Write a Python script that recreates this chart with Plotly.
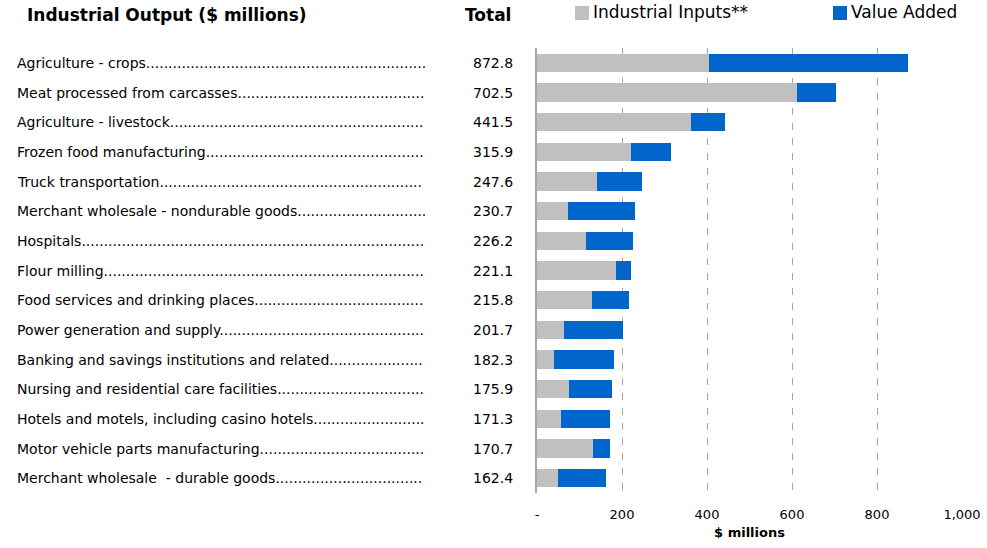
import plotly.graph_objects as go

# Industries ranked by total output ($ millions)
industries = [
    "Agriculture - crops",
    "Meat processed from carcasses",
    "Agriculture - livestock",
    "Frozen food manufacturing",
    "Truck transportation",
    "Merchant wholesale - nondurable goods",
    "Hospitals",
    "Flour milling",
    "Food services and drinking places",
    "Power generation and supply",
    "Banking and savings institutions and related",
    "Nursing and residential care facilities",
    "Hotels and motels, including casino hotels",
    "Motor vehicle parts manufacturing",
    "Merchant wholesale  - durable goods",
]
totals = [872.8, 702.5, 441.5, 315.9, 247.6, 230.7, 226.2, 221.1,
          215.8, 201.7, 182.3, 175.9, 171.3, 170.7, 162.4]
industrial_inputs = [405, 612, 363, 222, 142, 74, 116, 187,
                     130, 64, 41, 76, 57, 132, 50]
value_added = [round(t - i, 1) for t, i in zip(totals, industrial_inputs)]

x_ticks = [0, 200, 400, 600, 800, 1000]
x_tick_text = ["-", "200", "400", "600", "800", "1,000"]

series_names = ["Industrial Inputs**", "Value Added"]

GRAY = "#C0C0C0"
BLUE = "#0066CC"
FONT = "DejaVu Sans"
LABEL_SIZE = 14

W, H = 987, 548
ML, MR, MT, MB = 537, 25, 48, 55
PLOT_W = W - ML - MR
PLOT_H = H - MT - MB

# DejaVu Sans advance widths (font units, 2048 per em) for sizing leaders
ADV = {
    " ": 651, ",": 651, "-": 739, ".": 651, "(": 799, ")": 799,
    "A": 1401, "B": 1405, "C": 1430, "D": 1577, "E": 1294, "F": 1178,
    "G": 1587, "H": 1540, "I": 604, "M": 1767, "N": 1532, "P": 1235,
    "T": 1251,
    "a": 1255, "b": 1300, "c": 1126, "d": 1300, "e": 1260, "f": 721,
    "g": 1300, "h": 1298, "i": 569, "j": 569, "k": 1186, "l": 569,
    "m": 1995, "n": 1298, "o": 1253, "p": 1300, "q": 1300, "r": 842,
    "s": 1067, "t": 803, "u": 1298, "v": 1212, "w": 1675, "x": 1212,
    "y": 1212, "z": 1075,
}


def text_width(s, size):
    return sum(ADV.get(ch, 1250) for ch in s) * size / 2048


def with_leader(label, span, size):
    """Pad a row label with dots so it fills the given pixel span."""
    dot = ADV["."] * size / 2048
    n = int((span - text_width(label, size)) // dot)
    return label + "." * max(n, 3)


def px_x(px):
    """Convert a pixel column to paper x."""
    return (px - ML) / PLOT_W


def px_y(py):
    """Convert a pixel row to paper y."""
    return 1 - (py - MT) / PLOT_H


fig = go.Figure()
fig.add_trace(go.Bar(
    y=industries, x=industrial_inputs, orientation="h",
    name=series_names[0], marker=dict(color=GRAY, line=dict(width=0)),
))
fig.add_trace(go.Bar(
    y=industries, x=value_added, orientation="h",
    name=series_names[1], marker=dict(color=BLUE, line=dict(width=0)),
))

annotations = []
shapes = []

# Row labels with dotted leaders, then the row totals
for name, tot in zip(industries, totals):
    annotations.append(dict(
        xref="paper", yref="y", x=px_x(15), y=name,
        xanchor="left", yanchor="middle", align="left", showarrow=False,
        text=with_leader(name, 410, LABEL_SIZE),
        font=dict(family=FONT, size=LABEL_SIZE, color="#000000"),
    ))
    annotations.append(dict(
        xref="paper", yref="y", x=px_x(515), y=name,
        xanchor="right", yanchor="middle", showarrow=False,
        text=f"{tot:.1f}",
        font=dict(family=FONT, size=LABEL_SIZE, color="#000000"),
    ))

# Column headers
annotations.append(dict(
    xref="paper", yref="paper", x=px_x(25), y=px_y(15),
    xanchor="left", yanchor="middle", showarrow=False,
    text="<b>Industrial Output ($ millions)</b>",
    font=dict(family=FONT, size=17, color="#000000"),
))
annotations.append(dict(
    xref="paper", yref="paper", x=px_x(513), y=px_y(15),
    xanchor="right", yanchor="middle", showarrow=False,
    text="<b>Total</b>",
    font=dict(family=FONT, size=17, color="#000000"),
))

# Legend keys across the top
for name, color, x0 in zip(series_names, [GRAY, BLUE], [575, 833]):
    shapes.append(dict(
        type="rect", xref="paper", yref="paper", layer="above",
        x0=px_x(x0), x1=px_x(x0 + 14), y0=px_y(20), y1=px_y(6),
        fillcolor=color, line=dict(width=0),
    ))
    annotations.append(dict(
        xref="paper", yref="paper", x=px_x(x0 + 16), y=px_y(12),
        xanchor="left", yanchor="middle", showarrow=False,
        text=name,
        font=dict(family=FONT, size=17, color="#000000"),
    ))

fig.update_layout(
    width=W, height=H,
    margin=dict(l=ML, r=MR, t=MT, b=MB, pad=0, autoexpand=False),
    barmode="stack",
    bargap=0.39,
    plot_bgcolor="white",
    paper_bgcolor="white",
    font=dict(family=FONT, size=13, color="#000000"),
    showlegend=False,
    xaxis=dict(
        range=[0, 1000],
        tickvals=x_ticks, ticktext=x_tick_text,
        showgrid=True, gridcolor="#A6A6A6", gridwidth=1, griddash="7px,8px",
        zeroline=False,
        showline=False,
        ticks="",
        ticklabelstandoff=12,
        tickfont=dict(family=FONT, size=13, color="#000000"),
        title=dict(text="<b>$ millions</b>", font=dict(family=FONT, size=13), standoff=6),
        fixedrange=True,
    ),
    yaxis=dict(
        autorange="reversed",
        showticklabels=False,
        showgrid=False,
        zeroline=False,
        showline=True, linecolor="#A6A6A6", linewidth=2,
        ticks="",
        fixedrange=True,
    ),
    annotations=annotations,
    shapes=shapes,
)

fig.write_html("out.html")
